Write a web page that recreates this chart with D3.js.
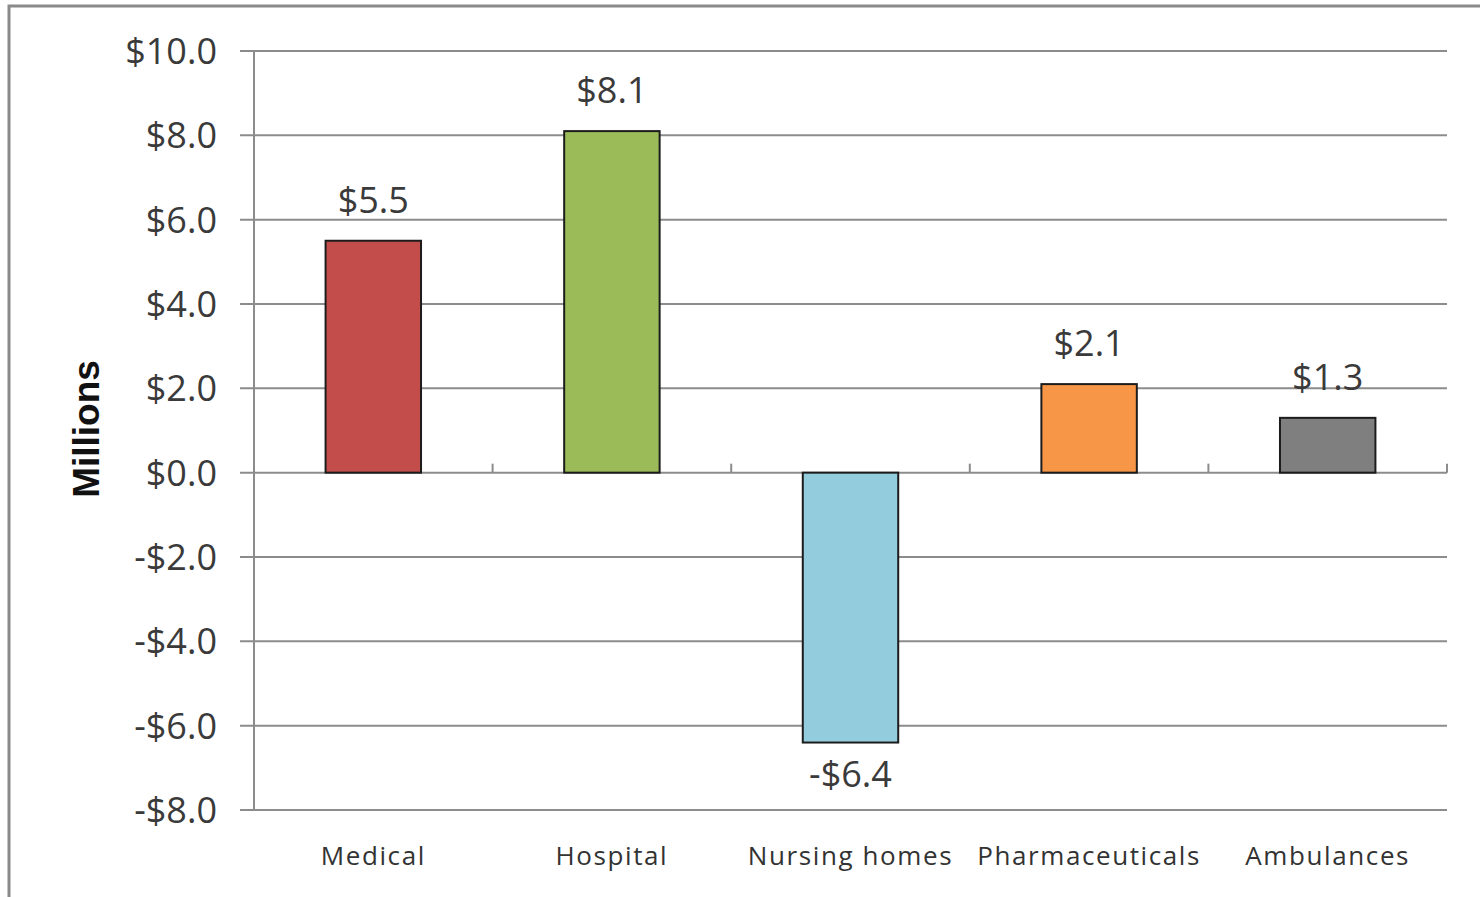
<!DOCTYPE html>
<html>
<head>
<meta charset="utf-8">
<script src="https://cdn.jsdelivr.net/npm/d3@7"></script>
<style>
  html, body { margin: 0; padding: 0; background: #fff; }
  svg { display: block; }
</style>
</head>
<body>
<svg id="chart" width="1480" height="897"></svg>
<script>
// Net change by spending category, in millions of dollars
const categories = ["Medical", "Hospital", "Nursing homes", "Pharmaceuticals", "Ambulances"];
const values = [5.5, 8.1, -6.4, 2.1, 1.3];
const barColors = ["#C24D4B", "#9BBB59", "#93CDDD", "#F79646", "#7F7F7F"];
const yTicks = [-8, -6, -4, -2, 0, 2, 4, 6, 8, 10];

const fmt = v => (v < 0 ? "-$" : "$") + Math.abs(v).toFixed(1);

const svg = d3.select("#chart");
const W = 1480, H = 897;
const plot = { left: 254, right: 1447, top: 51, bottom: 810 };

// Outer frame
svg.append("rect")
  .attr("x", 9).attr("y", 6)
  .attr("width", W + 20).attr("height", H + 20)
  .attr("fill", "#fff")
  .attr("stroke", "#8a8a8a")
  .attr("stroke-width", 3);

const y = d3.scaleLinear().domain([-8, 10]).range([plot.bottom, plot.top]);

// Category bands (for boundaries and labels) and bar positions
const xCat = d3.scaleBand().domain(categories).range([plot.left, plot.right]).padding(0);
const xBar = d3.scaleBand().domain(categories).range([plot.left, plot.right])
  .paddingInner(0.6).paddingOuter(0.3);

const gridColor = "#8c8c8c";

// Horizontal gridlines with outward ticks
svg.append("g")
  .selectAll("line")
  .data(yTicks)
  .join("line")
  .attr("x1", plot.left - 14)
  .attr("x2", plot.right)
  .attr("y1", d => y(d))
  .attr("y2", d => y(d))
  .attr("stroke", gridColor)
  .attr("stroke-width", 2);

// Vertical axis line
svg.append("line")
  .attr("x1", plot.left).attr("x2", plot.left)
  .attr("y1", y(10)).attr("y2", y(-8))
  .attr("stroke", gridColor)
  .attr("stroke-width", 2);

// Y tick labels
svg.append("g")
  .selectAll("text")
  .data(yTicks)
  .join("text")
  .attr("x", plot.left - 37)
  .attr("y", d => y(d))
  .attr("dy", "0.36em")
  .attr("text-anchor", "end")
  .attr("font-family", "'Open Sans', sans-serif")
  .attr("font-size", 36)
  .attr("fill", "#3a3a3a")
  .text(fmt);

// Category boundary ticks on the zero line
const boundaries = categories.map(c => xCat(c) + xCat.bandwidth());
svg.append("g")
  .selectAll("line")
  .data(boundaries)
  .join("line")
  .attr("x1", d => d).attr("x2", d => d)
  .attr("y1", y(0)).attr("y2", y(0) - 9)
  .attr("stroke", gridColor)
  .attr("stroke-width", 2);

// Bars
svg.append("g")
  .selectAll("rect")
  .data(categories)
  .join("rect")
  .attr("x", c => xBar(c))
  .attr("width", xBar.bandwidth())
  .attr("y", (c, i) => y(Math.max(0, values[i])))
  .attr("height", (c, i) => Math.abs(y(values[i]) - y(0)))
  .attr("fill", (c, i) => barColors[i])
  .attr("stroke", "#1c1c1c")
  .attr("stroke-width", 2);

// Value labels
svg.append("g")
  .selectAll("text")
  .data(categories)
  .join("text")
  .attr("x", c => xBar(c) + xBar.bandwidth() / 2)
  .attr("y", (c, i) => values[i] >= 0 ? y(values[i]) - 28 : y(values[i]) + 44)
  .attr("text-anchor", "middle")
  .attr("font-family", "'Open Sans', sans-serif")
  .attr("font-size", 36)
  .attr("fill", "#3a3a3a")
  .text((c, i) => fmt(values[i]));

// Category labels
svg.append("g")
  .selectAll("text")
  .data(categories)
  .join("text")
  .attr("x", c => xCat(c) + xCat.bandwidth() / 2)
  .attr("y", 865)
  .attr("text-anchor", "middle")
  .attr("font-family", "'Open Sans', sans-serif")
  .attr("font-size", 26)
  .attr("letter-spacing", 1.6)
  .attr("fill", "#333")
  .text(c => c);

// Y axis title
svg.append("text")
  .attr("transform", "translate(99, 429) rotate(-90)")
  .attr("text-anchor", "middle")
  .attr("font-family", "'Liberation Sans', Arial, sans-serif")
  .attr("font-weight", "bold")
  .attr("font-size", 37)
  .attr("fill", "#111")
  .text("Millions");
</script>
</body>
</html>
